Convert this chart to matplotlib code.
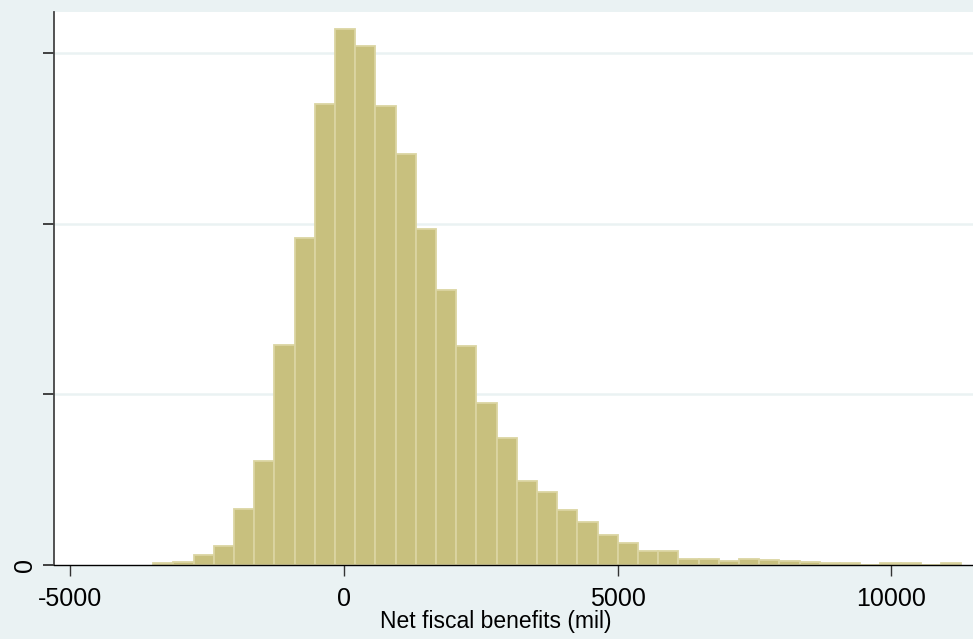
import numpy as np
import matplotlib
matplotlib.use("Agg")
import matplotlib.pyplot as plt

# Histogram of simulated net fiscal benefits (N = 10000, 40 bins)
n_obs = 10000
bin_start = -3484.0
bin_width = 369.0
counts = [4, 7, 21, 41, 121, 225, 475, 707, 997, 1160,
          1122, 992, 890, 726, 595, 473, 351, 275, 182, 158,
          120, 93, 65, 47, 30, 30, 14, 14, 9, 13,
          11, 8, 6, 4, 4, 0, 4, 4, 0, 4]
x_ticks = [-5000, 0, 5000, 10000]
x_labels = ["-5000", "0", "5000", "10000"]
y_ticks = [0, 1e-4, 2e-4, 3e-4]
y_labels = ["0", "", "", ""]
x_title = "Net fiscal benefits (mil)"

BG = "#EAF2F3"
FILL = "#C8C07E"
EDGE = "#DBD5A2"

plt.rcParams["font.family"] = ["Liberation Sans", "DejaVu Sans"]

W, H = 973, 639
fig = plt.figure(figsize=(W / 100, H / 100), dpi=100, facecolor=BG)
ax = fig.add_axes([54 / W, (H - 565) / H, (W - 54) / W, (565 - 12) / H])
ax.set_facecolor("white")

counts = np.array(counts, dtype=float)
edges = bin_start + bin_width * np.arange(len(counts) + 1)
density = counts / (n_obs * bin_width)

ax.bar(edges[:-1], density, width=bin_width, align="edge",
       color=FILL, edgecolor=EDGE, linewidth=1.3, zorder=2)

ax.set_xlim(-5298, 11491)
ax.set_ylim(0, 3.2415e-4)

for yv in y_ticks[1:]:
    ax.axhline(yv, color=BG, lw=1.8, zorder=1)

ax.set_xticks(x_ticks)
ax.set_xticklabels(x_labels, fontsize=18)
ax.set_yticks(y_ticks)
ax.set_yticklabels(y_labels, fontsize=18, rotation=90, va="center")
ax.tick_params(axis="x", length=8, width=1.0, color="#333333", pad=8)
ax.tick_params(axis="y", length=8, width=1.3, color="#333333", pad=4)

for s in ["top", "right"]:
    ax.spines[s].set_visible(False)
ax.spines["left"].set_color("#444444")
ax.spines["left"].set_linewidth(1.3)
ax.spines["bottom"].set_color("black")
ax.spines["bottom"].set_linewidth(1.0)
ax.spines["bottom"].set_zorder(3)

ax.set_xlabel(x_title, fontsize=16.5, labelpad=0)
ax.xaxis.set_label_coords((496 - 54) / (W - 54), -0.082)

fig.savefig("out.png", dpi=100, facecolor=BG)
